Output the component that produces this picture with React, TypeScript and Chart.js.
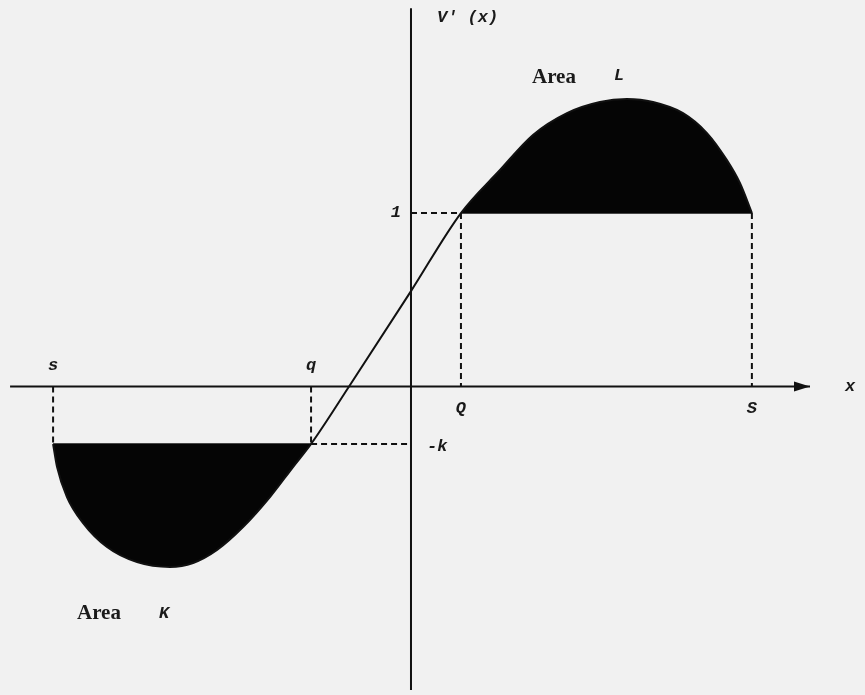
import React, { useEffect, useRef } from "react";
import { Chart, registerables } from "chart.js";

Chart.register(...registerables);

// Sampled points of V'(x), left to right: from s, through q, Q, up to S
const curveX = [-2.063, -2.04, -1.983, -1.89, -1.752, -1.579, -1.389, -1.256, -1.118, -0.968, -0.813, -0.68, -0.576, -0.357, 0, 0.288, 0.513, 0.703, 0.899, 1.089, 1.245, 1.395, 1.568, 1.706, 1.821, 1.896, 1.965];
const curveY = [-0.331, -0.464, -0.637, -0.787, -0.925, -1.012, -1.04, -1.017, -0.942, -0.81, -0.637, -0.464, -0.331, 0, 0.55, 1.0, 1.248, 1.45, 1.576, 1.64, 1.657, 1.64, 1.576, 1.461, 1.305, 1.173, 1.0];

// Marked abscissae and levels
const markerNames = ["s", "q", "Q", "S"];
const markerX = [-2.063, -0.576, 0.288, 1.965];
const levelNames = ["1", "-k"];
const levelY = [1.0, -0.331];

// Axis extents
const xAxisRange = [-2.311, 2.3];
const yAxisRange = [-1.749, 2.181];

const axisTitles = ["x", "V' (x)"];
const areaNames = ["L", "K"];

const pts = (xs: number[], ys: number[]) => xs.map((x, i) => ({ x, y: ys[i] }));

export default function App() {
  const ref = useRef<HTMLCanvasElement>(null);

  useEffect(() => {
    const canvas = ref.current;
    if (!canvas) return;

    const [sX, qX, QX, SX] = markerX;
    const [oneY, kY] = levelY;
    const all = pts(curveX, curveY);

    const dashed = {
      borderColor: "#111",
      borderWidth: 2,
      borderDash: [6, 4],
      pointRadius: 0,
      fill: false,
    };

    const background = {
      id: "background",
      beforeDraw(chart: any) {
        const c = chart.ctx;
        c.save();
        c.fillStyle = "#f1f1f1";
        c.fillRect(0, 0, chart.width, chart.height);
        c.restore();
      },
    };

    const annotations = {
      id: "annotations",
      afterDraw(chart: any) {
        const c = chart.ctx;
        const xs = chart.scales.x;
        const ys = chart.scales.y;
        const px = (v: number) => xs.getPixelForValue(v);
        const py = (v: number) => ys.getPixelForValue(v);
        const y0 = py(0);

        // arrow head on the x axis
        const tip = px(xAxisRange[1]);
        c.save();
        c.fillStyle = "#111";
        c.beginPath();
        c.moveTo(tip, y0);
        c.lineTo(tip - 16, y0 - 5);
        c.lineTo(tip - 16, y0 + 5);
        c.closePath();
        c.fill();

        const mono = "italic bold 17px 'Liberation Mono', 'DejaVu Sans Mono', monospace";
        const serif = "bold 21px 'Liberation Serif', 'DejaVu Serif', serif";
        c.fillStyle = "#1a1a1a";
        c.textBaseline = "middle";
        c.font = mono;

        // markers on the x axis
        c.textAlign = "center";
        markerNames.forEach((name, i) => {
          const above = i < 2;
          c.fillText(name, px(markerX[i]), above ? y0 - 21 : y0 + 22);
        });

        // axis titles
        c.fillText(axisTitles[0], tip + 40, y0);
        c.textAlign = "left";
        c.fillText(axisTitles[1], px(0) + 26, 18);

        // levels on the y axis
        c.textAlign = "right";
        c.fillText(levelNames[0], px(0) - 10, py(levelY[0]));
        c.textAlign = "left";
        c.fillText(levelNames[1], px(0) + 16, py(levelY[1]) + 3);

        // area captions
        c.font = serif;
        c.fillText("Area", 532, 78);
        c.fillText("Area", 77, 614);
        c.font = mono;
        c.textAlign = "center";
        c.fillText(areaNames[0], 619, 76);
        c.fillText(areaNames[1], 164, 614);
        c.restore();
      },
    };

    const chart = new Chart(canvas, {
      type: "scatter",
      data: {
        datasets: [
          {
            label: "V'(x)",
            data: all,
            showLine: true,
            borderColor: "#111",
            borderWidth: 2,
            pointRadius: 0,
            cubicInterpolationMode: "monotone",
            fill: false,
          },
          {
            // shaded where V'(x) rises above 1 (area L)
            label: "Area L",
            data: all,
            showLine: true,
            borderWidth: 0,
            borderColor: "rgba(0,0,0,0)",
            pointRadius: 0,
            cubicInterpolationMode: "monotone",
            fill: { target: { value: oneY }, above: "#050505", below: "rgba(0,0,0,0)" },
          },
          {
            // shaded where V'(x) drops below -k (area K)
            label: "Area K",
            data: all,
            showLine: true,
            borderWidth: 0,
            borderColor: "rgba(0,0,0,0)",
            pointRadius: 0,
            cubicInterpolationMode: "monotone",
            fill: { target: { value: kY }, above: "rgba(0,0,0,0)", below: "#050505" },
          },
          {
            label: "x axis",
            data: [{ x: xAxisRange[0], y: 0 }, { x: xAxisRange[1], y: 0 }],
            showLine: true,
            borderColor: "#111",
            borderWidth: 2,
            pointRadius: 0,
            fill: false,
          },
          {
            label: "y axis",
            data: [{ x: 0, y: yAxisRange[1] }, { x: 0, y: yAxisRange[0] }],
            showLine: true,
            borderColor: "#111",
            borderWidth: 2,
            pointRadius: 0,
            fill: false,
          },
          { label: "s drop", data: [{ x: sX, y: 0 }, { x: sX, y: kY }], showLine: true, ...dashed },
          { label: "q drop", data: [{ x: qX, y: 0 }, { x: qX, y: kY }], showLine: true, ...dashed },
          { label: "-k level", data: [{ x: qX, y: kY }, { x: 0, y: kY }], showLine: true, ...dashed },
          { label: "1 level", data: [{ x: 0, y: oneY }, { x: QX, y: oneY }], showLine: true, ...dashed },
          { label: "Q drop", data: [{ x: QX, y: oneY }, { x: QX, y: 0 }], showLine: true, ...dashed },
          { label: "S drop", data: [{ x: SX, y: oneY }, { x: SX, y: 0 }], showLine: true, ...dashed },
          {
            label: "level edges",
            data: [{ x: sX, y: kY }, { x: qX, y: kY }, { x: NaN, y: NaN }, { x: QX, y: oneY }, { x: SX, y: oneY }],
            showLine: true,
            spanGaps: false,
            borderColor: "#111",
            borderWidth: 1.5,
            pointRadius: 0,
            fill: false,
          },
        ],
      },
      options: {
        animation: false,
        responsive: false,
        maintainAspectRatio: false,
        layout: { padding: 0 },
        plugins: {
          legend: { display: false },
          tooltip: { enabled: false },
        },
        scales: {
          x: { type: "linear", min: -2.369, max: 2.617, display: false },
          y: { type: "linear", min: -1.778, max: 2.228, display: false },
        },
      },
      plugins: [background, annotations],
    } as any);

    return () => chart.destroy();
  }, []);

  return (
    <div style={{ position: "absolute", left: 0, top: 0, width: 865, height: 695 }}>
      <canvas ref={ref} width={865} height={695} style={{ display: "block" }} />
    </div>
  );
}
